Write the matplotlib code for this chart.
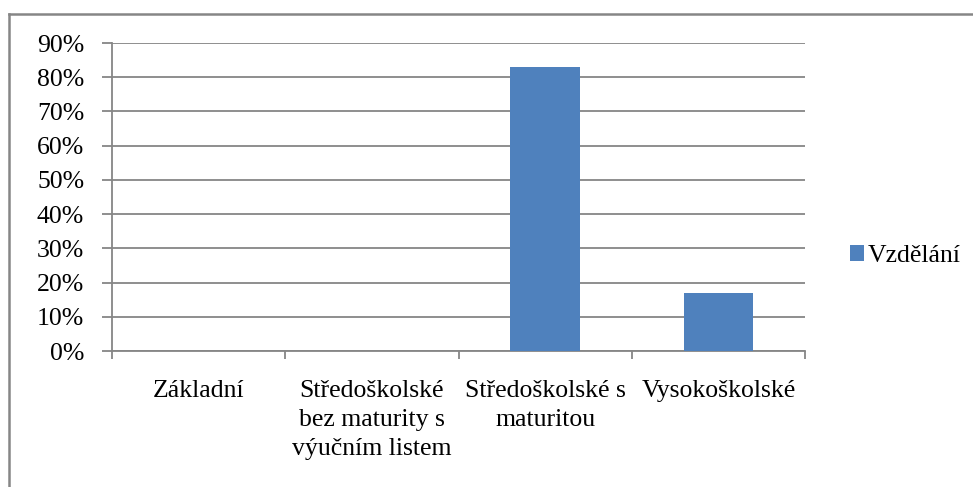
import matplotlib.pyplot as plt
from matplotlib.lines import Line2D
from matplotlib.ticker import FuncFormatter

# data
categories = ["Základní",
              "Středoškolské\nbez maturity s\nvýučním listem",
              "Středoškolské s\nmaturitou",
              "Vysokoškolské"]
values = [0.0, 0.0, 0.83, 0.17]
series_name = "Vzdělání"

plt.rcParams['font.family'] = ['Liberation Serif', 'DejaVu Serif']
fs = 18.5
grey = '#868686'

fig = plt.figure(figsize=(9.73, 4.87), dpi=100)
ax = fig.add_axes([112/973, 1 - 351/487, (805 - 112)/973, (351 - 43)/487])

x = range(len(categories))
ax.bar(x, values, width=0.4, color='#4F81BD', label=series_name, zorder=3)

ax.set_xlim(-0.5, len(categories) - 0.5)
ax.set_ylim(0, 0.9)
ax.set_yticks([i / 10 for i in range(10)])
ax.yaxis.set_major_formatter(FuncFormatter(lambda v, p: f"{round(v * 100)}%"))
ax.grid(axis='y', color=grey, lw=1.3, zorder=0)

ax.set_xticks(list(x))
ax.set_xticklabels(categories, fontsize=fs, va='top', linespacing=1.4)
ax.tick_params(axis='x', which='major', length=0, pad=21)
ax.set_xticks([i - 0.5 for i in range(len(categories) + 1)], minor=True)
ax.tick_params(axis='x', which='minor', length=6, color=grey, width=1.3)
ax.tick_params(axis='y', labelsize=fs, length=7, color=grey, width=1.3, pad=13)

for s in ['top', 'right']:
    ax.spines[s].set_visible(False)
for s in ['left', 'bottom']:
    ax.spines[s].set_color(grey)
    ax.spines[s].set_linewidth(1.3)

fig.legend(loc='center left', bbox_to_anchor=(827/973, 1 - 256/487),
           frameon=False, fontsize=18.5, handlelength=0.55, handleheight=0.55,
           handletextpad=0.15)

# outer frame: only top and left edges are inside the picture
fig.add_artist(Line2D([9/973, 1], [1 - 14/487] * 2, transform=fig.transFigure,
                      color=grey, lw=1.8))
fig.add_artist(Line2D([9/973] * 2, [0, 1 - 14/487], transform=fig.transFigure,
                      color=grey, lw=1.8))

fig.savefig('out.png', dpi=100)
